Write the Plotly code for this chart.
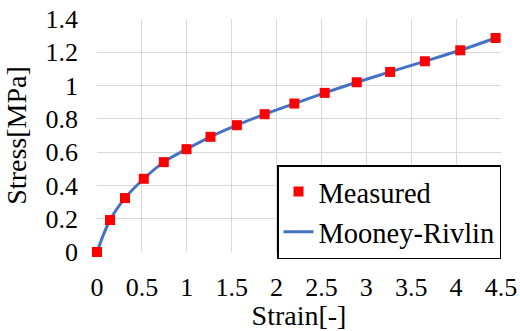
import plotly.graph_objects as go

strain = [0.0, 0.145, 0.312, 0.521, 0.744, 0.997, 1.264, 1.558, 1.867, 2.198,
          2.536, 2.893, 3.265, 3.652, 4.046, 4.44]
stress = [0.0, 0.192, 0.324, 0.44, 0.54, 0.618, 0.692, 0.762, 0.828, 0.892,
          0.956, 1.02, 1.082, 1.146, 1.212, 1.286]

x_ticks = [0, 0.5, 1, 1.5, 2, 2.5, 3, 3.5, 4, 4.5]
x_tick_labels = ["0", "0.5", "1", "1.5", "2", "2.5", "3", "3.5", "4", "4.5"]
y_ticks = [0, 0.2, 0.4, 0.6, 0.8, 1.0, 1.2, 1.4]
y_tick_labels = ["0", "0.2", "0.4", "0.6", "0.8", "1", "1.2", "1.4"]

FONT = "Liberation Serif"
TICK = dict(family=FONT, size=26, color="black")
TITLE = dict(family=FONT, size=28, color="black")

fig = go.Figure()
fig.add_trace(go.Scatter(
    x=strain, y=stress, mode="lines", name="Mooney-Rivlin",
    line=dict(color="#4472C4", width=3, shape="spline"),
    cliponaxis=False,
))
fig.add_trace(go.Scatter(
    x=strain, y=stress, mode="markers", name="Measured",
    marker=dict(symbol="square", color="#FF0000", size=10),
    cliponaxis=False,
))

fig.update_layout(
    width=520, height=331,
    margin=dict(l=97, r=19, t=19, b=79, autoexpand=False),
    paper_bgcolor="white", plot_bgcolor="white",
    font=dict(family=FONT, size=26, color="black"),
    legend=dict(
        x=1.0, y=0.373, xanchor="right", yanchor="top",
        bgcolor="white", bordercolor="black", borderwidth=1.5,
        traceorder="reversed", itemwidth=30,
        font=dict(family=FONT, size=28.5, color="black"),
        tracegroupgap=0,
    ),
    xaxis=dict(
        range=[0, 4.5], tickvals=x_ticks, ticktext=x_tick_labels,
        showgrid=True, gridcolor="#D9D9D9", gridwidth=1,
        zeroline=False, showline=False, automargin=False,
        ticks="", ticklabelstandoff=17, tickfont=TICK,
        title=dict(text="Strain[-]", standoff=2, font=TITLE),
    ),
    yaxis=dict(
        range=[0, 1.4], tickvals=y_ticks, ticktext=y_tick_labels,
        showgrid=True, gridcolor="#D9D9D9", gridwidth=1,
        zeroline=False, showline=False, automargin=False,
        ticks="", ticklabelstandoff=18, tickfont=TICK,
        title=dict(text="Stress[MPa]", standoff=10, font=TITLE),
    ),
)

fig.write_html("out.html", config={"displayModeBar": False},
               post_script="document.body.style.margin='0';")
